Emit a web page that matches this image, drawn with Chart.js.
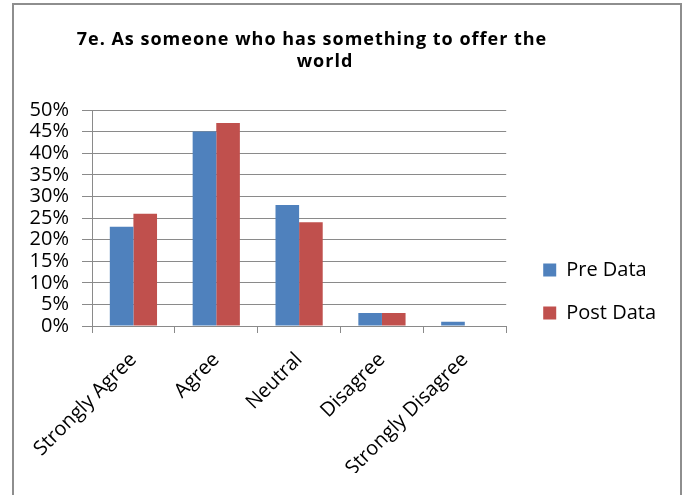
<!DOCTYPE html>
<html>
<head>
<meta charset="utf-8">
<script src="https://cdn.jsdelivr.net/npm/chart.js@4.4.1/dist/chart.umd.min.js"></script>
<style>
  html, body { margin: 0; padding: 0; background: #fff; }
  #wrap { position: relative; width: 683px; height: 495px; overflow: hidden; }
  #c { position: absolute; left: 0; top: 0; }
  #frame { position: absolute; left: 12px; top: 3px; width: 666px; height: 520px; border: 2px solid #8e8e8e; pointer-events: none; }
  .tl { position: absolute; white-space: nowrap; font-family: "Open Sans", sans-serif; font-weight: bold; font-size: 18px; letter-spacing: 1px; color: #000; line-height: 22px; }
</style>
</head>
<body>
<div id="wrap">
  <canvas id="c" width="683" height="495"></canvas>
  <div id="frame"></div>
  <div id="t1" class="tl"></div>
  <div id="t2" class="tl"></div>
</div>
<script>
const titleLines = ['7e. As someone who has something to offer the', 'world'];
const categories = ['Strongly Agree', 'Agree', 'Neutral', 'Disagree', 'Strongly Disagree'];
const preData = [23, 45, 28, 3, 1];
const postData = [26, 47, 24, 3, 0];
const seriesNames = ['Pre Data', 'Post Data'];
const yTicks = [0, 5, 10, 15, 20, 25, 30, 35, 40, 45, 50];

// title placement (centres of each line, as in the reference)
const t1 = document.getElementById('t1');
const t2 = document.getElementById('t2');
t1.textContent = titleLines[0];
t2.textContent = titleLines[1];
function placeTitle(el, cx, top) {
  const w = el.getBoundingClientRect().width;
  el.style.left = (cx - w / 2) + 'px';
  el.style.top = top + 'px';
}
placeTitle(t1, 312, 27);
placeTitle(t2, 325, 49);

const gridColor = '#8a8a8a';
const font = { family: '"Open Sans", sans-serif', size: 20 };

new Chart(document.getElementById('c'), {
  type: 'bar',
  data: {
    labels: categories,
    datasets: [
      { label: seriesNames[0], data: preData, backgroundColor: '#4F81BD', borderWidth: 0 },
      { label: seriesNames[1], data: postData, backgroundColor: '#C0504D', borderWidth: 0 }
    ]
  },
  options: {
    responsive: false,
    animation: false,
    devicePixelRatio: 1,
    layout: { padding: { top: 110, left: 0, right: 17, bottom: 22 } },
    datasets: { bar: { categoryPercentage: 0.57, barPercentage: 1.0 } },
    plugins: {
      title: { display: false },
      tooltip: { enabled: false },
      legend: {
        position: 'right',
        maxWidth: 220,
        labels: {
          color: '#000',
          font: font,
          boxWidth: 13,
          boxHeight: 13,
          padding: 23
        }
      }
    },
    scales: {
      x: {
        grid: { display: true, drawOnChartArea: false, drawTicks: true, tickLength: 7, color: gridColor, offset: true },
        border: { display: true, color: gridColor, width: 1 },
        ticks: { color: '#000', font: font, minRotation: 45, maxRotation: 45, padding: 15, autoSkip: false },
        afterFit: s => { s.height = 147; }
      },
      y: {
        min: 0,
        max: 50,
        afterBuildTicks: s => { s.ticks = yTicks.map(v => ({ value: v })); },
        grid: { color: gridColor, lineWidth: 1, tickLength: 10, drawTicks: true },
        border: { display: true, color: gridColor, width: 1 },
        ticks: { color: '#000', font: font, padding: 13, autoSkip: false, callback: v => v + '%' },
        afterFit: s => { s.width = 92; }
      },
      gap: {
        type: 'linear',
        position: 'right',
        display: true,
        grid: { display: false, drawTicks: false },
        border: { display: false },
        ticks: { display: false },
        afterFit: s => { s.width = 14; }
      }
    }
  }
});
</script>
</body>
</html>
